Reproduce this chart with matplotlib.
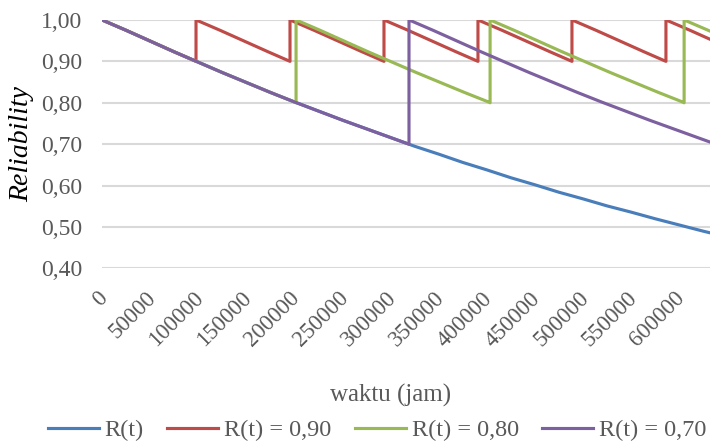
import numpy as np
import matplotlib.pyplot as plt
from matplotlib.transforms import ScaledTranslation

# base reliability curve R(t), every 25000 jam
t_base = [0, 25000, 50000, 75000, 100000, 125000, 150000, 175000, 200000,
          225000, 250000, 275000, 300000, 325000, 350000, 375000, 400000,
          425000, 450000, 475000, 500000, 525000, 550000, 575000, 600000,
          625000, 650000]
r_base = [1.000, 0.975, 0.949, 0.923, 0.898, 0.873, 0.849, 0.825, 0.802,
          0.780, 0.758, 0.737, 0.716, 0.695, 0.676, 0.656, 0.638,
          0.619, 0.602, 0.584, 0.568, 0.551, 0.536, 0.520, 0.505,
          0.490, 0.476]

# maintenance intervals (jam) where R(t) reaches the threshold
interval_90 = 97700
interval_80 = 201700
interval_70 = 319100
thresholds = [0.90, 0.80, 0.70]

t_end = 632000


def sawtooth(interval, threshold):
    # one cycle = base curve from 0 up to the interval, then restore to 1
    cyc_t = [t for t in t_base if t < interval] + [interval]
    cyc_r = [r for t, r in zip(t_base, r_base) if t < interval] + [threshold]
    ts, rs = [], []
    start = 0
    while start < t_end + interval:
        ts += [start + t for t in cyc_t]
        rs += cyc_r
        start += interval
    return np.array(ts), np.array(rs)


plt.rcParams['font.family'] = ['Liberation Serif', 'DejaVu Serif']

fig = plt.figure(figsize=(7.10, 4.43), dpi=100)
ax = fig.add_axes([0.1437, 0.394, 0.8563, 0.561])

colors = ['#4A7EBB', '#BE4B48', '#98B954', '#7D60A0']
labels = ['R(t)', 'R(t) = 0,90', 'R(t) = 0,80', 'R(t) = 0,70']

ax.plot(t_base, r_base, color=colors[0], lw=2.25, label=labels[0])
for interval, thr, c, lab in zip([interval_90, interval_80, interval_70],
                                 thresholds, colors[1:], labels[1:]):
    ts, rs = sawtooth(interval, thr)
    ax.plot(ts, rs, color=c, lw=2.25, label=lab)

ax.set_xlim(0, t_end)
ax.set_ylim(0.40, 1.00)
ax.set_yticks(np.arange(0.40, 1.001, 0.10))
ax.set_yticklabels(['0,40', '0,50', '0,60', '0,70', '0,80', '0,90', '1,00'])
xt = list(range(0, 600001, 50000))
ax.set_xticks(xt)
ax.set_xticklabels([str(x) for x in xt], rotation=45, ha='right', va='top',
                   rotation_mode='anchor')
ax.tick_params(axis='y', length=0, labelsize=17, colors='#595959', pad=14)
ax.tick_params(axis='x', length=0, labelsize=16.5, colors='#595959', pad=14)
shift = ScaledTranslation(-5 / 100, 0, fig.dpi_scale_trans)
for lbl in ax.get_xticklabels():
    lbl.set_transform(lbl.get_transform() + shift)
ax.grid(axis='y', color='#D9D9D9', lw=1.5)
ax.set_axisbelow(True)
for s in ax.spines.values():
    s.set_visible(False)

ax.set_ylabel('Reliability', fontsize=20, style='italic', color='black')
ax.yaxis.set_label_coords(-0.1316, 0.5)
ax.yaxis.label.set_va('center')
ax.set_xlabel('waktu (jam)', fontsize=18, color='#595959')
ax.xaxis.set_label_coords(0.474, -0.509)
ax.xaxis.label.set_va('center')

leg = fig.legend(loc='center', bbox_to_anchor=(0.531, 0.029), ncol=4, frameon=False,
                 fontsize=17.5, handlelength=2.1, columnspacing=0.95,
                 handletextpad=0.25, borderaxespad=0, borderpad=0)
for txt in leg.get_texts():
    txt.set_color('#595959')

fig.savefig('out.png', dpi=100)
